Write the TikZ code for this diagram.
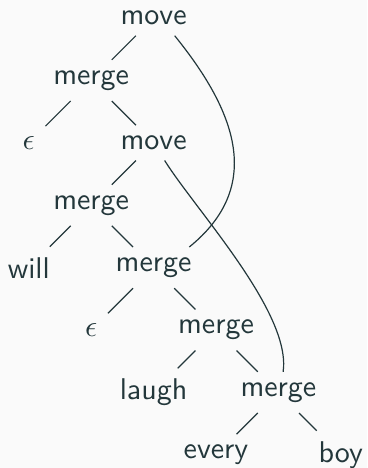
\documentclass[tikz,border=0pt]{standalone}
\usepackage{xcolor}
\definecolor{mtext}{HTML}{23373B}
\definecolor{mbg}{HTML}{FAFAFA}
\begin{document}
\begin{tikzpicture}[x=20.8pt,y=-20.8pt,
  tnode/.style={font=\sffamily, text=mtext},
  branch/.style={draw=mtext, line width=0.4pt},
  movearc/.style={draw=mtext, line width=0.4pt}]
\fill[mbg] (-9.6pt,6pt) rectangle (112.733pt,-150pt);
\useasboundingbox (-9.6pt,6pt) rectangle (112.733pt,-150pt);
% nodes
\node[tnode] (mv1) at (2,0) {move};
\node[tnode] (mg1) at (1,1) {merge};
\node[tnode] (eps1) at (0,2) {$\epsilon$};
\node[tnode] (mv2) at (2,2) {move};
\node[tnode] (mg2) at (1,3) {merge};
\node[tnode] (will) at (0,4) {will};
\node[tnode] (mg3) at (2,4) {merge};
\node[tnode] (eps2) at (1,5) {$\epsilon$};
\node[tnode] (mg4) at (3,5) {merge};
\node[tnode] (laugh) at (2,6) {laugh};
\node[tnode] (mg5) at (4,6) {merge};
\node[tnode] (every) at (3,7) {every};
\node[tnode] (boy) at (5,7) {boy};
% tree branches
\draw[branch] (mv1) -- (mg1);
\draw[branch] (mg1) -- (eps1);
\draw[branch] (mg1) -- (mv2);
\draw[branch] (mv2) -- (mg2);
\draw[branch] (mg2) -- (will);
\draw[branch] (mg2) -- (mg3);
\draw[branch] (mg3) -- (eps2);
\draw[branch] (mg3) -- (mg4);
\draw[branch] (mg4) -- (laugh);
\draw[branch] (mg4) -- (mg5);
\draw[branch] (mg5) -- (every);
\draw[branch] (mg5) -- (boy);
% movement arcs
\draw[movearc] (mv1.-40) to[out=-51, in=39, distance=32.3pt] (mg3.30);
\draw[movearc] (mv2.-58) to[out=-58, in=82, out distance=19.5pt, in distance=20pt] (mg5.77);
\end{tikzpicture}
\end{document}
